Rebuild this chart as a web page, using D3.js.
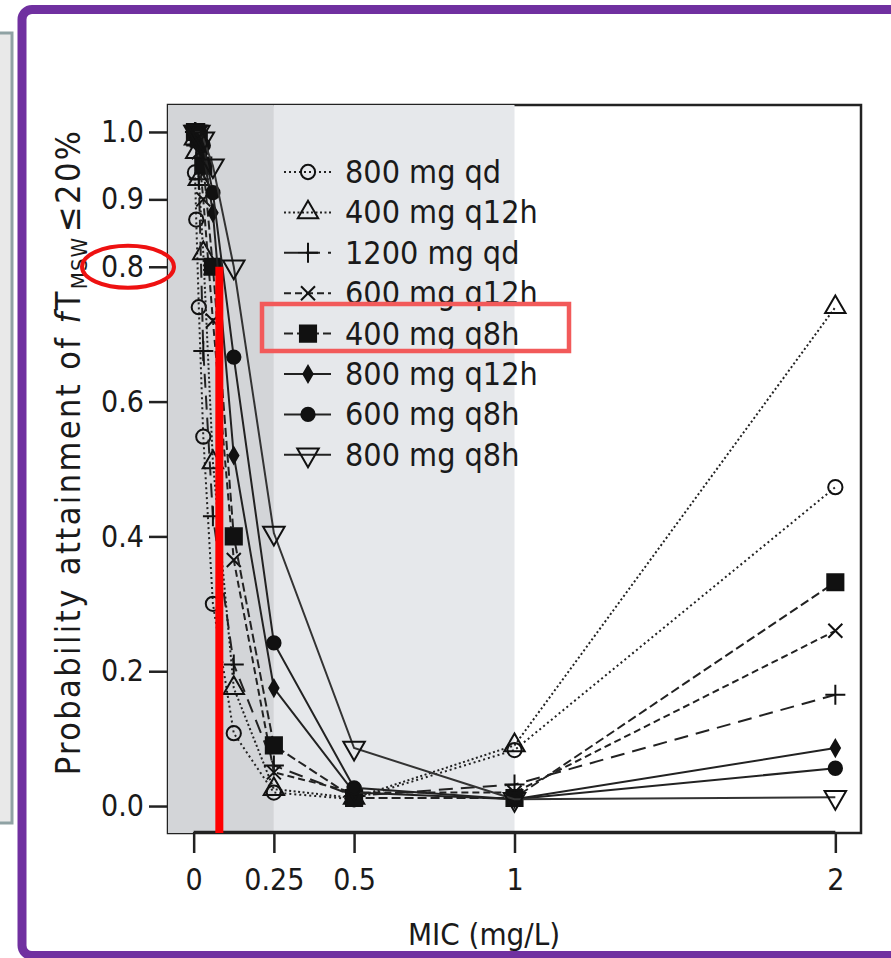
<!DOCTYPE html>
<html>
<head>
<meta charset="utf-8">
<script src="https://cdn.jsdelivr.net/npm/d3@7"></script>
<style>
  html, body { margin: 0; padding: 0; background: #ffffff; }
  svg { display: block; }
  text { font-family: "DejaVu Sans Condensed", "Liberation Sans Narrow", "DejaVu Sans", sans-serif; fill: #1a1a1a; }
</style>
</head>
<body>
<script>
// MIC values (mg/L) at which target attainment was evaluated
const mic = [0.004, 0.008, 0.016, 0.03, 0.06, 0.125, 0.25, 0.5, 1, 2];

// Dosing regimens, legend order
const regimens = ["800 mg qd", "400 mg q12h", "1200 mg qd", "600 mg q12h",
                  "400 mg q8h", "800 mg q12h", "600 mg q8h", "800 mg q8h"];

// Probability of attainment for each regimen, one value per MIC
const pta800qd    = [0.94, 0.87, 0.74, 0.548, 0.30, 0.108, 0.02, 0.01, 0.083, 0.473];
const pta400q12h  = [0.99, 0.97, 0.93, 0.82, 0.51, 0.175, 0.025, 0.012, 0.09, 0.74];
const pta1200qd   = [1.0, 0.98, 0.93, 0.675, 0.43, 0.21, 0.06, 0.015, 0.032, 0.165];
const pta600q12h  = [1.0, 0.99, 0.97, 0.90, 0.72, 0.365, 0.05, 0.02, 0.02, 0.26];
const pta400q8h   = [1.0, 1.0, 0.99, 0.95, 0.80, 0.40, 0.09, 0.012, 0.012, 0.332];
const pta800q12h  = [1.0, 1.0, 0.99, 0.97, 0.88, 0.52, 0.175, 0.02, 0.01, 0.086];
const pta600q8h   = [1.0, 1.0, 1.0, 0.98, 0.91, 0.666, 0.242, 0.027, 0.01, 0.056];
const pta800q8h   = [1.0, 1.0, 1.0, 0.99, 0.95, 0.80, 0.405, 0.086, 0.01, 0.013];

// Axis ticks
const xTicks = [0, 0.25, 0.5, 1, 2];
const xTickLabels = ["0", "0.25", "0.5", "1", "2"];
const yTicks = [0.0, 0.2, 0.4, 0.6, 0.8, 0.9, 1.0];
const yTickLabels = ["0.0", "0.2", "0.4", "0.6", "0.8", "0.9", "1.0"];

// Shaded MIC bands
const bandEdges = [0.25, 1];

// Highlighted point: 400 mg q8h reaching 0.8
const markProb = 0.8;
const markMic = 0.08;

const W = 891, H = 958;
const svg = d3.select("body").append("svg").attr("width", W).attr("height", H);

// Left neighbouring panel edge
svg.append("rect").attr("x", -10).attr("y", 33).attr("width", 22).attr("height", 790)
  .attr("fill", "#e9e9e9").attr("stroke", "#8fa2a4").attr("stroke-width", 3);

// Purple frame
svg.append("rect").attr("x", 22).attr("y", 9.5).attr("width", 900).attr("height", 946)
  .attr("rx", 10).attr("fill", "#ffffff").attr("stroke", "#7030a0").attr("stroke-width", 9);

const x = d3.scaleLinear([-0.08, 2.08], [168, 861]);
const y = d3.scaleLinear([-0.04, 1.04], [833, 105]);

// Plot box
svg.append("rect").attr("x", x.range()[0]).attr("y", y.range()[1])
  .attr("width", x.range()[1] - x.range()[0]).attr("height", y.range()[0] - y.range()[1])
  .attr("fill", "none").attr("stroke", "#222").attr("stroke-width", 2.5);

// Shaded bands
svg.append("rect").attr("x", x.range()[0]).attr("y", y.range()[1])
  .attr("width", x(bandEdges[0]) - x.range()[0]).attr("height", y.range()[0] - y.range()[1])
  .attr("fill", "#d3d5d8");
svg.append("rect").attr("x", x(bandEdges[0])).attr("y", y.range()[1])
  .attr("width", x(bandEdges[1]) - x(bandEdges[0])).attr("height", y.range()[0] - y.range()[1])
  .attr("fill", "#e6e8eb");

// X axis
const xAxis = svg.append("g").attr("transform", `translate(0,${y.range()[0] - 1})`)
  .call(d3.axisBottom(x).tickValues(xTicks).tickFormat((d, i) => xTickLabels[i])
    .tickSize(21).tickSizeOuter(0).tickPadding(16));
xAxis.select(".domain").attr("d", `M${x(xTicks[0])},0H${x(xTicks[xTicks.length - 1])}`)
  .attr("stroke", "#222").attr("stroke-width", 2.5);
xAxis.selectAll(".tick line").attr("stroke", "#222").attr("stroke-width", 2.5);
xAxis.selectAll(".tick text").attr("font-size", 30).attr("fill", "#1a1a1a")
  .style("font-family", "'DejaVu Sans Condensed', 'Liberation Sans Narrow', sans-serif");

// Y axis (ticks only)
const yAxis = svg.append("g").attr("transform", `translate(${x.range()[0] - 1},0)`)
  .call(d3.axisLeft(y).tickValues(yTicks).tickFormat((d, i) => yTickLabels[i])
    .tickSize(18).tickPadding(5));
yAxis.select(".domain").remove();
yAxis.selectAll(".tick line").attr("stroke", "#222").attr("stroke-width", 2.5);
yAxis.selectAll(".tick text").attr("font-size", 30).attr("fill", "#1a1a1a")
  .style("font-family", "'DejaVu Sans Condensed', 'Liberation Sans Narrow', sans-serif");

// Axis titles
svg.append("text").attr("x", 484).attr("y", 945).attr("text-anchor", "middle")
  .attr("font-size", 31).text("MIC (mg/L)");

const yl = svg.append("text").attr("transform", "translate(80,452) rotate(-90)")
  .attr("text-anchor", "middle").attr("font-size", 34).attr("letter-spacing", 2.4);
yl.append("tspan").text("Probability attainment of ");
yl.append("tspan").attr("font-style", "italic").text("f");
yl.append("tspan").text("T");
yl.append("tspan").attr("font-size", 22).attr("letter-spacing", 1).attr("dy", 7).text("MSW");
yl.append("tspan").attr("dy", -7).attr("dx", 5).text("≤20%");

// Marker shapes
const plusPath = s => `M${-s},0H${s}M0,${-s}V${s}`;
const crossPath = s => `M${-s},${-s}L${s},${s}M${-s},${s}L${s},${-s}`;
const series = [
  { name: regimens[0], values: pta800qd,   dash: "2,3",  shape: () => d3.symbol(d3.symbolCircle, 160)(), fill: "none" },
  { name: regimens[1], values: pta400q12h, dash: "2,2.5", shape: () => d3.symbol(d3.symbolTriangle, 180)(), fill: "none" },
  { name: regimens[2], values: pta1200qd,  dash: "14,8", shape: () => plusPath(10), fill: "none" },
  { name: regimens[3], values: pta600q12h, dash: "7,4",  shape: () => crossPath(7), fill: "none" },
  { name: regimens[4], values: pta400q8h,  dash: "9,4",  shape: () => d3.symbol(d3.symbolSquare, 260)(), fill: "#111" },
  { name: regimens[5], values: pta800q12h, dash: null,   shape: () => d3.symbol(d3.symbolDiamond, 75)(), fill: "#111" },
  { name: regimens[6], values: pta600q8h,  dash: null,   shape: () => d3.symbol(d3.symbolCircle, 140)(), fill: "#111" },
  { name: regimens[7], values: pta800q8h,  dash: null,   shape: () => d3.symbol(d3.symbolTriangle, 200)(), fill: "none", rot: 180 }
];

const line = d3.line().x(d => x(d[0])).y(d => y(d[1]));
const plot = svg.append("g");

series.forEach(s => {
  const pts = mic.map((m, i) => [m, s.values[i]]);
  plot.append("path").attr("d", line(pts)).attr("fill", "none")
    .attr("stroke", s.rot ? "#333" : "#222").attr("stroke-width", 2)
    .attr("stroke-dasharray", s.dash);
  plot.selectAll(null).data(pts).join("path")
    .attr("transform", d => `translate(${x(d[0])},${y(d[1])})` + (s.rot ? ` rotate(${s.rot})` : ""))
    .attr("d", s.shape()).attr("fill", s.fill).attr("stroke", "#111").attr("stroke-width", 2);
});

// Legend
const legend = svg.append("g");
const legY0 = 172, legStep = 40.4;
series.forEach((s, i) => {
  const ly = legY0 + i * legStep;
  legend.append("line").attr("x1", 284).attr("x2", 331).attr("y1", ly).attr("y2", ly)
    .attr("stroke", "#222").attr("stroke-width", 2).attr("stroke-dasharray", s.dash);
  legend.append("path").attr("transform", `translate(308,${ly})` + (s.rot ? ` rotate(${s.rot})` : ""))
    .attr("d", s.shape()).attr("fill", s.fill).attr("stroke", "#111").attr("stroke-width", 2);
  legend.append("text").attr("x", 345).attr("y", ly + 11).attr("font-size", 32).text(s.name);
});

// Highlight annotations
const ann = svg.append("g");
ann.append("ellipse").attr("cx", 128).attr("cy", y(markProb)).attr("rx", 46).attr("ry", 21)
  .attr("fill", "none").attr("stroke", "#ee1111").attr("stroke-width", 4);
ann.append("line").attr("x1", x(markMic)).attr("x2", x(markMic))
  .attr("y1", y(markProb)).attr("y2", y.range()[0])
  .attr("stroke", "#ff0000").attr("stroke-width", 8);
ann.append("rect").attr("x", 262).attr("y", 304).attr("width", 307).attr("height", 47)
  .attr("fill", "none").attr("stroke", "#f25a5a").attr("stroke-width", 4.5);
</script>
</body>
</html>
